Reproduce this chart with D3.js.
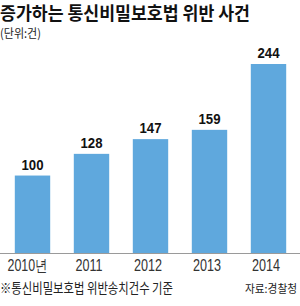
<!DOCTYPE html>
<html>
<head>
<meta charset="utf-8">
<script src="https://cdn.jsdelivr.net/npm/d3@7"></script>
<style>
  html, body { margin: 0; padding: 0; background: #fff; }
  svg { display: block; }
</style>
</head>
<body>
<div id="chart"></div>
<script>
// 데이터
const years = ["2010", "2011", "2012", "2013", "2014"];
const yearLabels = ["2010년", "2011", "2012", "2013", "2014"];
const cases = [100, 128, 147, 159, 244];

const width = 300, height = 306;
const baseY = 253;
const krFont = "'Noto Sans CJK KR', 'Noto Sans', sans-serif";
const numFont = "'Liberation Sans', Arial, sans-serif";

const svg = d3.select("#chart").append("svg")
    .attr("width", width)
    .attr("height", height);

const x = d3.scaleBand()
    .domain(years)
    .range([3, 298])
    .paddingInner(0.4)
    .paddingOuter(0.2);

const y = d3.scaleLinear()
    .domain([0, 244])
    .range([baseY, 64]);

// 제목
svg.append("text")
    .attr("x", 0).attr("y", 19.5)
    .attr("textLength", 250).attr("lengthAdjust", "spacingAndGlyphs")
    .style("font-family", krFont).style("font-weight", 700)
    .style("font-size", "18px").attr("fill", "#111")
    .text("증가하는 통신비밀보호법 위반 사건");

svg.append("text")
    .attr("x", 0).attr("y", 37.5)
    .attr("textLength", 41).attr("lengthAdjust", "spacingAndGlyphs")
    .style("font-family", krFont).style("font-size", "12px")
    .attr("fill", "#222")
    .text("(단위:건)");

// 막대
svg.append("g").selectAll("rect")
    .data(cases)
    .join("rect")
    .attr("x", (d, i) => x(years[i]))
    .attr("y", d => y(d))
    .attr("width", x.bandwidth())
    .attr("height", d => baseY - y(d))
    .attr("fill", "#5fa8dd");

// 기준선
svg.append("line")
    .attr("x1", 0).attr("x2", width)
    .attr("y1", baseY + 0.5).attr("y2", baseY + 0.5)
    .attr("stroke", "#9a9a9a").attr("stroke-width", 1);

// 값 라벨
svg.append("g").selectAll("text")
    .data(cases)
    .join("text")
    .attr("x", (d, i) => x(years[i]) + x.bandwidth() / 2 - 11)
    .attr("y", d => y(d) - 6)
    .attr("textLength", 22).attr("lengthAdjust", "spacingAndGlyphs")
    .style("font-family", numFont).style("font-weight", 700)
    .style("font-size", "15.5px").attr("fill", "#111")
    .text(d => d);

// 연도 라벨
const labelW = [40, 27, 28, 28, 28];
svg.append("g").selectAll("text")
    .data(yearLabels)
    .join("text")
    .attr("x", (d, i) => x(years[i]) + x.bandwidth() / 2 - (i === 0 ? 5 : 2.5) - labelW[i] / 2)
    .attr("y", 271)
    .attr("textLength", (d, i) => labelW[i]).attr("lengthAdjust", "spacingAndGlyphs")
    .style("font-family", numFont)
    .style("font-size", "16px").attr("fill", "#333")
    .text(d => d);

// 주석
svg.append("text")
    .attr("x", 0).attr("y", 293)
    .attr("textLength", 173).attr("lengthAdjust", "spacingAndGlyphs")
    .style("font-family", krFont).style("font-size", "13.5px")
    .attr("fill", "#222")
    .text("※통신비밀보호법 위반송치건수 기준");

svg.append("text")
    .attr("x", 245).attr("y", 293)
    .attr("textLength", 52).attr("lengthAdjust", "spacingAndGlyphs")
    .style("font-family", krFont).style("font-size", "11.5px")
    .attr("fill", "#222")
    .text("자료:경찰청");
</script>
</body>
</html>
